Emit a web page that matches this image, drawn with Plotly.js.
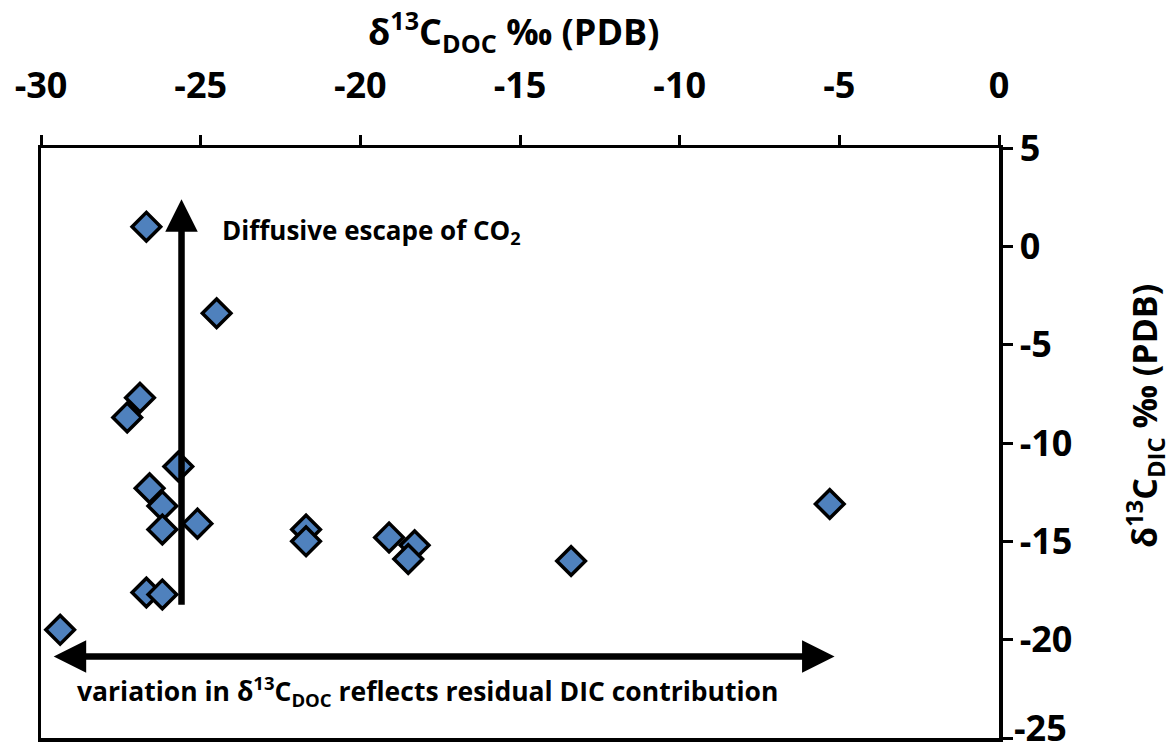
<!DOCTYPE html>
<html>
<head>
<meta charset="utf-8">
<script src="https://cdn.plot.ly/plotly-3.0.1.min.js"></script>
<style>html,body{margin:0;padding:0;background:#fff;}#chart{width:1171px;height:753px;}</style>
</head>
<body>
<div id="chart"></div>
<script>
// δ13C DOC (x) vs δ13C DIC (y), ‰ PDB
const docValues = [-26.7, -24.5, -26.9, -27.3, -25.7, -26.6, -26.2, -26.2, -25.1, -26.7, -26.2, -29.4, -21.7, -21.7, -19.1, -18.3, -18.5, -13.4, -5.3];
const dicValues = [1.0, -3.4, -7.7, -8.7, -11.2, -12.3, -13.2, -14.4, -14.1, -17.6, -17.7, -19.5, -14.4, -15.0, -14.8, -15.2, -15.9, -16.0, -13.1];

const xTickVals = [-30, -25, -20, -15, -10, -5, 0];
const yTickVals = [5, 0, -5, -10, -15, -20, -25];
const yBottomTick = -25; // its label is nudged up so it stays inside the picture

// annotation arrows (data coordinates): [tipX, tipY, tailX, tailY]
const escapeArrow = [-25.6, 2.4, -25.6, -18.3];
const variationArrow = [-5.15, -20.85, -29.65, -20.85];

const escapeLabel = {x: -24.4, y: 0.8, text: 'Diffusive escape of CO<sub>2</sub>'};
const variationLabel = {x: -28.95, y: -22.6, text: 'variation in δ<sup>13</sup>C<sub>DOC</sub> reflects residual DIC contribution'};

const xTitle = 'δ<sup>13</sup>C<sub>DOC</sub> ‰ (PDB)';
const yTitle = 'δ<sup>13</sup>C<sub>DIC</sub> ‰ (PDB)';

const FONT = '"Open Sans", "DejaVu Sans", sans-serif';

const trace = {
  type: 'scatter',
  mode: 'markers',
  x: docValues,
  y: dicValues,
  marker: {symbol: 'diamond', size: 22, color: '#4F81BD', line: {color: '#000000', width: 3.5}},
  hoverinfo: 'x+y',
  showlegend: false
};

const axisCommon = {
  ticks: 'outside', ticklen: 10, tickwidth: 3, tickcolor: '#000',
  showline: true, linewidth: 3.5, linecolor: '#000', mirror: true,
  showgrid: false, zeroline: false,
  ticklabeloverflow: 'allow',
  tickfont: {family: FONT, size: 36, color: '#000', weight: 'bold'}
};

const layout = {
  width: 1171,
  height: 753,
  margin: {l: 41, r: 172, t: 148, b: 15},
  paper_bgcolor: '#ffffff',
  plot_bgcolor: '#ffffff',
  font: {family: FONT, color: '#000000'},
  xaxis: Object.assign({}, axisCommon, {
    side: 'top',
    range: [-30, 0],
    tickvals: xTickVals,
    ticktext: xTickVals.map(String),
    ticklabelstandoff: 22
  }),
  yaxis: Object.assign({}, axisCommon, {
    side: 'right',
    range: [-25, 5],
    tickvals: yTickVals,
    ticktext: yTickVals.map(v => (v === yBottomTick ? '' : String(v)))
  }),
  annotations: [
    {
      x: escapeArrow[0], y: escapeArrow[1], ax: escapeArrow[2], ay: escapeArrow[3],
      xref: 'x', yref: 'y', axref: 'x', ayref: 'y',
      text: '', showarrow: true, arrowhead: 2, arrowsize: 1, arrowwidth: 6.5, arrowcolor: '#000'
    },
    {
      x: variationArrow[0], y: variationArrow[1], ax: variationArrow[2], ay: variationArrow[3],
      xref: 'x', yref: 'y', axref: 'x', ayref: 'y',
      text: '', showarrow: true, arrowside: 'end+start',
      arrowhead: 2, startarrowhead: 2, arrowsize: 1, startarrowsize: 1, arrowwidth: 6.5, arrowcolor: '#000'
    },
    {
      x: escapeLabel.x, y: escapeLabel.y, xref: 'x', yref: 'y', xanchor: 'left', yanchor: 'middle',
      text: '<b>' + escapeLabel.text + '</b>', showarrow: false,
      font: {family: FONT, size: 26, color: '#000'}
    },
    {
      x: variationLabel.x, y: variationLabel.y, xref: 'x', yref: 'y', xanchor: 'left', yanchor: 'middle',
      text: '<b>' + variationLabel.text + '</b>', showarrow: false,
      font: {family: FONT, size: 26.5, color: '#000'}
    },
    {
      // bottom y tick label, lifted slightly as in the reference
      x: 1, y: yBottomTick, xref: 'paper', yref: 'y', xanchor: 'left', yanchor: 'middle',
      xshift: 13, yshift: 11,
      text: '<b>' + String(yBottomTick) + '</b>', showarrow: false,
      font: {family: FONT, size: 36, color: '#000'}
    },
    {
      // x-axis title (top)
      x: 0.493, y: 1.197, xref: 'paper', yref: 'paper', xanchor: 'center', yanchor: 'middle',
      text: '<b>' + xTitle + '</b>', showarrow: false,
      font: {family: FONT, size: 36, color: '#000'}
    },
    {
      // y-axis title (right)
      x: 1.152, y: 0.545, xref: 'paper', yref: 'paper', xanchor: 'center', yanchor: 'middle',
      text: '<b>' + yTitle + '</b>', showarrow: false, textangle: -90,
      font: {family: FONT, size: 34, color: '#000'}
    }
  ]
};

Plotly.newPlot('chart', [trace], layout, {displayModeBar: false, staticPlot: true});
</script>
</body>
</html>
